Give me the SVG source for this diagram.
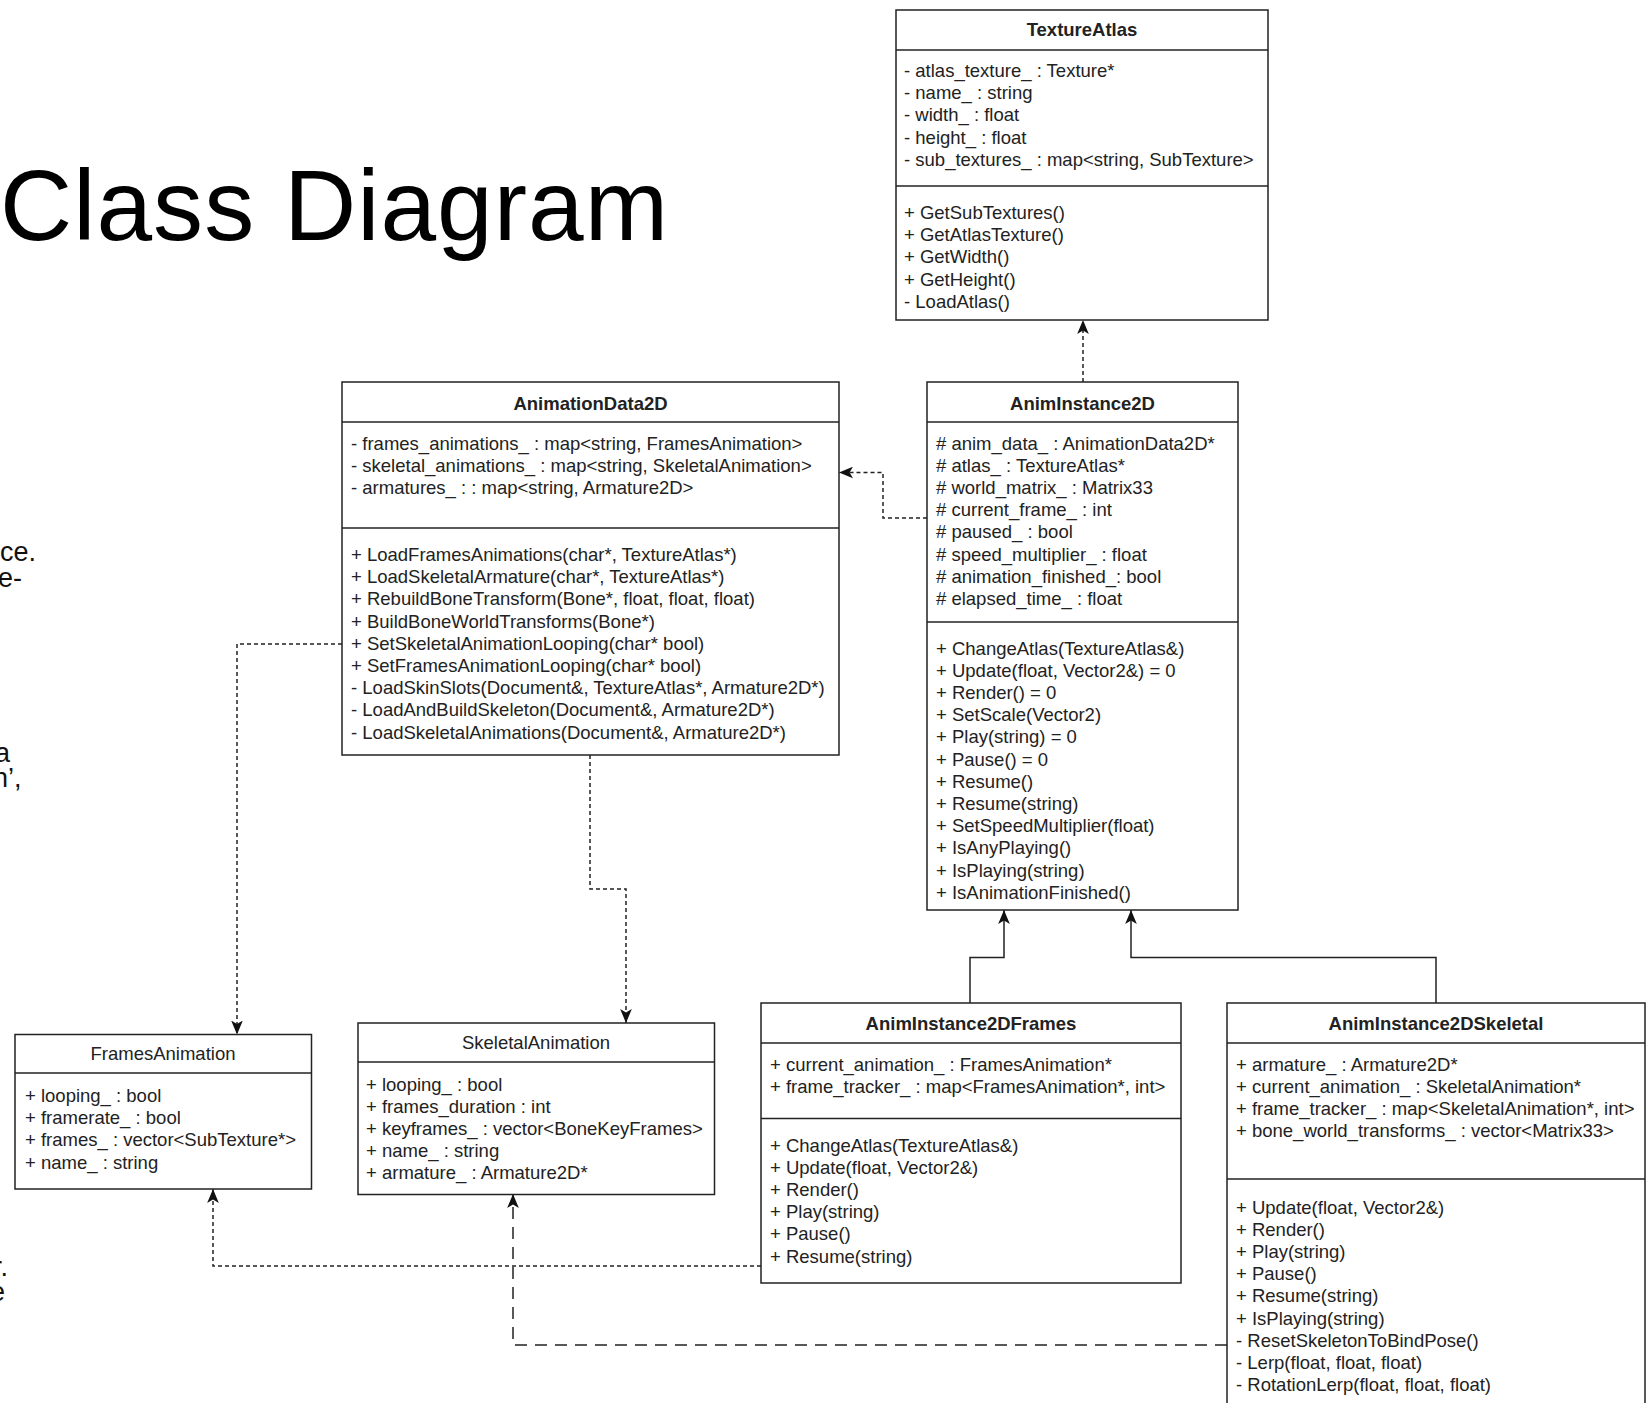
<svg xmlns="http://www.w3.org/2000/svg" width="1650" height="1403" viewBox="0 0 1650 1403">
<style>
.box{fill:#fff;stroke:#222;stroke-width:1.5}
.ln{stroke:#222;stroke-width:1.5}
.t{font-family:"Liberation Sans",Arial,sans-serif;font-size:18.5px;fill:#222}
.h{font-family:"Liberation Sans",Arial,sans-serif;font-size:18.5px;fill:#222;font-weight:bold;text-anchor:middle}
.hn{font-family:"Liberation Sans",Arial,sans-serif;font-size:18.5px;fill:#222;text-anchor:middle}
.slide{font-family:"Liberation Sans",Arial,sans-serif;font-size:27px;fill:#111}
.c{fill:none;stroke:#222;stroke-width:1.5;stroke-dasharray:4 3}
.cl{fill:none;stroke:#222;stroke-width:1.5;stroke-dasharray:12 8}
.s{fill:none;stroke:#222;stroke-width:1.5}
</style>
<defs>
<marker id="arr" viewBox="0 0 12 10" refX="12" refY="5" markerWidth="14" markerHeight="12" markerUnits="userSpaceOnUse" orient="auto">
<path d="M0,0 L12,5 L0,10 L3,5 z" fill="#111"/>
</marker>
</defs>
<rect width="1650" height="1403" fill="#fff"/>
<text x="0" y="240" font-family="'Liberation Sans',Arial,sans-serif" font-size="100" fill="#000" textLength="668">Class Diagram</text>
<g id="slide-fragments">
<text class="slide" x="0" y="561">ce.</text>
<text class="slide" x="-2" y="587">e-</text>
<text class="slide" x="-5" y="762">a</text>
<text class="slide" x="-7" y="787">n’,</text>
<text class="slide" x="-7" y="1276">r.</text>
<text class="slide" x="-10" y="1301">e</text>
</g>
<g id="connectors">
<path class="c" d="M1083,382 L1083,320" marker-end="url(#arr)"/>
<path class="c" d="M927,518 L883,518 L883,472.5 L839,472.5" marker-end="url(#arr)"/>
<path class="c" d="M342,644 L237,644 L237,1034.5" marker-end="url(#arr)"/>
<path class="c" d="M590,755 L590,889 L626,889 L626,1023" marker-end="url(#arr)"/>
<path class="s" d="M970,1003 L970,957.5 L1004,957.5 L1004,910" marker-end="url(#arr)"/>
<path class="s" d="M1436,1003 L1436,957.5 L1131,957.5 L1131,910" marker-end="url(#arr)"/>
<path class="c" d="M761,1266 L213,1266 L213,1189" marker-end="url(#arr)"/>
<path class="cl" d="M1227,1345 L513,1345 L513,1194" marker-end="url(#arr)"/>
</g>
<g id="TextureAtlas">
<rect class="box" x="896" y="10" width="372" height="310"/>
<line class="ln" x1="896" y1="50" x2="1268" y2="50"/>
<line class="ln" x1="896" y1="186" x2="1268" y2="186"/>
<text class="h" x="1082" y="36">TextureAtlas</text>
<text class="t" x="904" y="77">- atlas_texture_ : Texture*</text>
<text class="t" x="904" y="99.2">- name_ : string</text>
<text class="t" x="904" y="121.4">- width_ : float</text>
<text class="t" x="904" y="143.6">- height_ : float</text>
<text class="t" x="904" y="165.8">- sub_textures_ : map&lt;string, SubTexture&gt;</text>
<text class="t" x="904" y="219">+ GetSubTextures()</text>
<text class="t" x="904" y="241.2">+ GetAtlasTexture()</text>
<text class="t" x="904" y="263.4">+ GetWidth()</text>
<text class="t" x="904" y="285.6">+ GetHeight()</text>
<text class="t" x="904" y="307.8">- LoadAtlas()</text>
</g>
<g id="AnimationData2D">
<rect class="box" x="342" y="382" width="497" height="373"/>
<line class="ln" x1="342" y1="422" x2="839" y2="422"/>
<line class="ln" x1="342" y1="528" x2="839" y2="528"/>
<text class="h" x="590.5" y="409.5">AnimationData2D</text>
<text class="t" x="351" y="449.5">- frames_animations_ : map&lt;string, FramesAnimation&gt;</text>
<text class="t" x="351" y="471.7">- skeletal_animations_ : map&lt;string, SkeletalAnimation&gt;</text>
<text class="t" x="351" y="493.9">- armatures_ : : map&lt;string, Armature2D&gt;</text>
<text class="t" x="351" y="561">+ LoadFramesAnimations(char*, TextureAtlas*)</text>
<text class="t" x="351" y="583.2">+ LoadSkeletalArmature(char*, TextureAtlas*)</text>
<text class="t" x="351" y="605.4">+ RebuildBoneTransform(Bone*, float, float, float)</text>
<text class="t" x="351" y="627.6">+ BuildBoneWorldTransforms(Bone*)</text>
<text class="t" x="351" y="649.8">+ SetSkeletalAnimationLooping(char* bool)</text>
<text class="t" x="351" y="672">+ SetFramesAnimationLooping(char* bool)</text>
<text class="t" x="351" y="694.2">- LoadSkinSlots(Document&amp;, TextureAtlas*, Armature2D*)</text>
<text class="t" x="351" y="716.4">- LoadAndBuildSkeleton(Document&amp;, Armature2D*)</text>
<text class="t" x="351" y="738.6">- LoadSkeletalAnimations(Document&amp;, Armature2D*)</text>
</g>
<g id="AnimInstance2D">
<rect class="box" x="927" y="382" width="311" height="528"/>
<line class="ln" x1="927" y1="422" x2="1238" y2="422"/>
<line class="ln" x1="927" y1="622" x2="1238" y2="622"/>
<text class="h" x="1082.5" y="409.5">AnimInstance2D</text>
<text class="t" x="936" y="449.5"># anim_data_ : AnimationData2D*</text>
<text class="t" x="936" y="471.7"># atlas_ : TextureAtlas*</text>
<text class="t" x="936" y="493.9"># world_matrix_ : Matrix33</text>
<text class="t" x="936" y="516.1"># current_frame_ : int</text>
<text class="t" x="936" y="538.3"># paused_ : bool</text>
<text class="t" x="936" y="560.5"># speed_multiplier_ : float</text>
<text class="t" x="936" y="582.7"># animation_finished_: bool</text>
<text class="t" x="936" y="604.9"># elapsed_time_ : float</text>
<text class="t" x="936" y="654.5">+ ChangeAtlas(TextureAtlas&amp;)</text>
<text class="t" x="936" y="676.7">+ Update(float, Vector2&amp;) = 0</text>
<text class="t" x="936" y="698.9">+ Render() = 0</text>
<text class="t" x="936" y="721.1">+ SetScale(Vector2)</text>
<text class="t" x="936" y="743.3">+ Play(string) = 0</text>
<text class="t" x="936" y="765.5">+ Pause() = 0</text>
<text class="t" x="936" y="787.7">+ Resume()</text>
<text class="t" x="936" y="809.9">+ Resume(string)</text>
<text class="t" x="936" y="832.1">+ SetSpeedMultiplier(float)</text>
<text class="t" x="936" y="854.3">+ IsAnyPlaying()</text>
<text class="t" x="936" y="876.5">+ IsPlaying(string)</text>
<text class="t" x="936" y="898.7">+ IsAnimationFinished()</text>
</g>
<g id="AnimInstance2DFrames">
<rect class="box" x="761" y="1003" width="420" height="280"/>
<line class="ln" x1="761" y1="1043" x2="1181" y2="1043"/>
<line class="ln" x1="761" y1="1118.5" x2="1181" y2="1118.5"/>
<text class="h" x="971" y="1029.5">AnimInstance2DFrames</text>
<text class="t" x="770" y="1070.5">+ current_animation_ : FramesAnimation*</text>
<text class="t" x="770" y="1092.7">+ frame_tracker_ : map&lt;FramesAnimation*, int&gt;</text>
<text class="t" x="770" y="1151.5">+ ChangeAtlas(TextureAtlas&amp;)</text>
<text class="t" x="770" y="1173.7">+ Update(float, Vector2&amp;)</text>
<text class="t" x="770" y="1195.9">+ Render()</text>
<text class="t" x="770" y="1218.1">+ Play(string)</text>
<text class="t" x="770" y="1240.3">+ Pause()</text>
<text class="t" x="770" y="1262.5">+ Resume(string)</text>
</g>
<g id="AnimInstance2DSkeletal">
<rect class="box" x="1227" y="1003" width="418" height="420"/>
<line class="ln" x1="1227" y1="1043" x2="1645" y2="1043"/>
<line class="ln" x1="1227" y1="1179" x2="1645" y2="1179"/>
<text class="h" x="1436" y="1029.5">AnimInstance2DSkeletal</text>
<text class="t" x="1236" y="1070.5">+ armature_ : Armature2D*</text>
<text class="t" x="1236" y="1092.7">+ current_animation_ : SkeletalAnimation*</text>
<text class="t" x="1236" y="1114.9">+ frame_tracker_ : map&lt;SkeletalAnimation*, int&gt;</text>
<text class="t" x="1236" y="1137.1">+ bone_world_transforms_ : vector&lt;Matrix33&gt;</text>
<text class="t" x="1236" y="1213.5">+ Update(float, Vector2&amp;)</text>
<text class="t" x="1236" y="1235.7">+ Render()</text>
<text class="t" x="1236" y="1257.9">+ Play(string)</text>
<text class="t" x="1236" y="1280.1">+ Pause()</text>
<text class="t" x="1236" y="1302.3">+ Resume(string)</text>
<text class="t" x="1236" y="1324.5">+ IsPlaying(string)</text>
<text class="t" x="1236" y="1346.7">- ResetSkeletonToBindPose()</text>
<text class="t" x="1236" y="1368.9">- Lerp(float, float, float)</text>
<text class="t" x="1236" y="1391.1">- RotationLerp(float, float, float)</text>
</g>
<g id="FramesAnimation">
<rect class="box" x="15" y="1034.5" width="296.5" height="154.5"/>
<line class="ln" x1="15" y1="1073" x2="311.5" y2="1073"/>
<text class="hn" x="163" y="1059.5">FramesAnimation</text>
<text class="t" x="25" y="1102">+ looping_ : bool</text>
<text class="t" x="25" y="1124.2">+ framerate_ : bool</text>
<text class="t" x="25" y="1146.4">+ frames_ : vector&lt;SubTexture*&gt;</text>
<text class="t" x="25" y="1168.6">+ name_ : string</text>
</g>
<g id="SkeletalAnimation">
<rect class="box" x="358" y="1023" width="356.5" height="171.5"/>
<line class="ln" x1="358" y1="1062" x2="714.5" y2="1062"/>
<text class="hn" x="536" y="1048.5">SkeletalAnimation</text>
<text class="t" x="366" y="1090.5">+ looping_ : bool</text>
<text class="t" x="366" y="1112.7">+ frames_duration : int</text>
<text class="t" x="366" y="1134.9">+ keyframes_ : vector&lt;BoneKeyFrames&gt;</text>
<text class="t" x="366" y="1157.1">+ name_ : string</text>
<text class="t" x="366" y="1179.3">+ armature_ : Armature2D*</text>
</g>
</svg>
